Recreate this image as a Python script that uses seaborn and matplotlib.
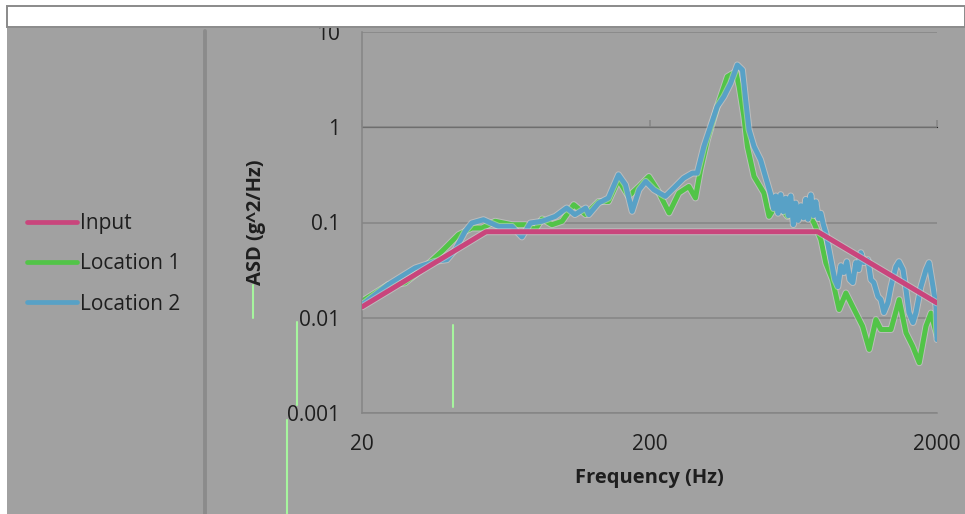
import matplotlib
matplotlib.use("Agg")
import matplotlib.pyplot as plt
from matplotlib.lines import Line2D
from matplotlib.patches import Rectangle
from matplotlib import patheffects as pe
from matplotlib.ticker import FixedLocator, FixedFormatter, NullLocator
import pandas as pd
import seaborn as sns

# ---- data -------------------------------------------------------------
input_freq = [20, 54, 770, 2000]
input_asd = [0.013, 0.08, 0.08, 0.0143]

loc1_freq = [20, 24.7, 28.2, 32.3, 37.9, 43.3, 48.2, 52.3, 58.1, 66.5, 74.0,
             80.1, 84.6, 91.6, 99.3, 109, 120, 133, 144, 156, 169, 184, 199,
             213, 234, 253, 274, 289, 301, 318, 344, 373, 399, 410, 426, 438,
             462, 500, 521, 557, 604, 656, 709, 747, 789, 821, 866, 913, 964,
             1030, 1102, 1162, 1226, 1276, 1383, 1477, 1560, 1646, 1735, 1831,
             1906, 2000]
loc1_asd = [0.0149, 0.0223, 0.0232, 0.032, 0.0498, 0.0745, 0.0875, 0.0875,
            0.103, 0.0948, 0.0948, 0.0841, 0.109, 0.0948, 0.103, 0.154, 0.121,
            0.166, 0.166, 0.281, 0.188, 0.239, 0.304, 0.221, 0.126, 0.204,
            0.239, 0.181, 0.357, 0.738, 1.65, 3.40, 3.84, 2.67, 1.29, 0.628,
            0.304, 0.204, 0.116, 0.160, 0.116, 0.143, 0.126, 0.0988, 0.0664,
            0.0376, 0.0251, 0.0122, 0.0182, 0.0122, 0.00815, 0.00465, 0.00957,
            0.00752, 0.00752, 0.0155, 0.00695, 0.00502, 0.00337, 0.00815,
            0.0112, 0.0064]

loc2_freq = [20, 24.7, 30.6, 35.9, 39.5, 42.2, 45.7, 48.2, 52.9, 59.7, 66.5,
             72.0, 77.0, 84.6, 94.1, 103, 110, 120, 123, 133, 144, 156, 165,
             174, 184, 194, 207, 227, 243, 263, 282, 293, 309, 326, 344, 363,
             383, 404, 421, 432, 444, 462, 487, 514, 528, 540, 550, 560, 572,
             584, 596, 608, 620, 633, 645, 658, 672, 686, 699, 712, 728, 743,
             758, 773, 789, 805, 821, 855, 882, 904, 926, 948, 971, 995, 1019,
             1044, 1069, 1087, 1113, 1150, 1178, 1206, 1246, 1276, 1307, 1350,
             1383, 1439, 1475, 1523, 1560, 1598, 1650, 1690, 1759, 1831, 1876,
             1937, 1984, 2000]
loc2_asd = [0.0137, 0.0223, 0.0333, 0.0391, 0.0407, 0.0519, 0.0807, 0.0988,
            0.107, 0.091, 0.091, 0.0705, 0.0988, 0.103, 0.116, 0.142, 0.121,
            0.142, 0.121, 0.160, 0.181, 0.317, 0.249, 0.131, 0.221, 0.270,
            0.221, 0.188, 0.230, 0.292, 0.330, 0.330, 0.628, 1.02, 1.65, 2.10,
            2.90, 4.51, 4.00, 1.94, 0.94, 0.628, 0.455, 0.259, 0.196, 0.140,
            0.190, 0.125, 0.196, 0.130, 0.180, 0.118, 0.190, 0.095, 0.160,
            0.105, 0.150, 0.112, 0.175, 0.108, 0.195, 0.118, 0.165, 0.110,
            0.125, 0.095, 0.0777, 0.0407, 0.0251, 0.0212, 0.0352, 0.0298,
            0.0388, 0.0251, 0.0234, 0.0379, 0.0320, 0.0482, 0.0379, 0.0407,
            0.0251, 0.0234, 0.0167, 0.0155, 0.01134, 0.01443, 0.0212, 0.0343,
            0.0388, 0.0320, 0.01975, 0.01134, 0.0089, 0.01134, 0.0212, 0.0320,
            0.0379, 0.0212, 0.0131, 0.0059]

series_names = ["Input", "Location 1", "Location 2"]
series_colors = ["#c9457c", "#52c448", "#58a1c6"]

x_ticks = [20, 200, 2000]
x_tick_labels = ["20", "200", "2000"]
y_ticks = [0.001, 0.01, 0.1, 1, 10]
y_tick_labels = ["0.001", "0.01", "0.1", "1", "10"]

x_title = "Frequency (Hz)"
y_title = "ASD (g^2/Hz)"

# ---- long-form table --------------------------------------------------
frames = []
for name, f, a in zip(series_names,
                      [input_freq, loc1_freq, loc2_freq],
                      [input_asd, loc1_asd, loc2_asd]):
    frames.append(pd.DataFrame({"freq": f, "asd": a, "series": name}))
df = pd.concat(frames, ignore_index=True)

# ---- style ------------------------------------------------------------
PANEL = "#a1a1a1"
GRID = "#858585"
TEXT = "#1e1e1e"
sns.set_style("white")
plt.rcParams["font.family"] = ["Open Sans", "DejaVu Sans"]
plt.rcParams["axes.unicode_minus"] = False

W, H = 965, 514
fig = plt.figure(figsize=(W / 100, H / 100), dpi=100, facecolor="white")


def fx(px):
    return px / W


def fy(py):
    return 1 - py / H


# grey chart panel and the white strip above it
fig.add_artist(Rectangle((fx(7), 0), fx(W - 7), fy(28), transform=fig.transFigure,
                         facecolor=PANEL, edgecolor="none", zorder=0))
fig.add_artist(Rectangle((fx(7), fy(27)), fx(W - 7), fy(6) - fy(27),
                         transform=fig.transFigure, facecolor="white",
                         edgecolor="#8a8a8a", linewidth=1.4, zorder=10))
# divider between the legend area and the plot area
fig.add_artist(Line2D([fx(205), fx(205)], [fy(31), 0], transform=fig.transFigure,
                      color="#8b8b8b", linewidth=2.8, zorder=1))

ax = fig.add_axes([fx(362), fy(413), fx(937) - fx(362), fy(32) - fy(413)])
ax.set_facecolor(PANEL)
ax.patch.set_alpha(0)

LW = 3.6
sns.lineplot(data=df, x="freq", y="asd", hue="series", hue_order=series_names,
             palette=series_colors, estimator=None, sort=False, linewidth=LW,
             ax=ax, legend=False)

halo = [pe.Stroke(linewidth=LW + 1.4, foreground="#d9d9d9", alpha=0.5), pe.Normal()]
for line, z in zip(ax.lines, [4, 2, 3]):
    line.set_zorder(z)
    line.set_solid_joinstyle("round")
    line.set_path_effects(halo)

ax.set_xscale("log")
ax.set_yscale("log")
ax.set_xlim(x_ticks[0], x_ticks[-1])
ax.set_ylim(y_ticks[0], y_ticks[-1])

ax.xaxis.set_major_locator(FixedLocator(x_ticks))
ax.xaxis.set_major_formatter(FixedFormatter(x_tick_labels))
ax.xaxis.set_minor_locator(NullLocator())
ax.yaxis.set_major_locator(FixedLocator(y_ticks))
ax.yaxis.set_major_formatter(FixedFormatter(y_tick_labels))
ax.yaxis.set_minor_locator(NullLocator())

ax.grid(axis="y", color=GRID, linewidth=1.1)
ax.grid(axis="x", visible=False)
ax.set_axisbelow(True)

for side in ["top", "right"]:
    ax.spines[side].set_visible(False)
for side in ["left", "bottom"]:
    ax.spines[side].set_color(GRID)
    ax.spines[side].set_linewidth(1.1)

ax.tick_params(axis="x", length=0, pad=15, labelsize=15, labelcolor=TEXT)
ax.tick_params(axis="y", length=5, width=1.1, color=GRID, pad=11,
               labelsize=15, labelcolor=TEXT)

# horizontal axis line crossing at ASD = 1, with its tick marks
cross = ax.secondary_xaxis(0.75)
cross.set_xticks(x_ticks)
cross.xaxis.set_minor_locator(NullLocator())
cross.set_xticklabels([""] * len(x_ticks))
cross.tick_params(axis="x", length=5, width=1.1, color=GRID)
cross.spines["bottom"].set_color(GRID)
cross.spines["bottom"].set_linewidth(1.1)

ax.set_xlabel(x_title, fontsize=14.5, fontweight="bold", color=TEXT)
ax.set_ylabel(y_title, fontsize=14.5, fontweight="bold", color=TEXT)
ax.xaxis.set_label_coords(0.5, (413 - 468) / 381)
ax.yaxis.set_label_coords((266 - 362) / 575, 0.5)

# legend in the left panel
handles = [Line2D([], [], color=c, linewidth=3.4) for c in series_colors]
fig.legend(handles, series_names, loc="center left",
           bbox_to_anchor=(fx(27), fy(264)), frameon=False, fontsize=15,
           handlelength=2.4, handletextpad=0.12, labelspacing=0.92,
           borderpad=0, borderaxespad=0, labelcolor=TEXT)

# pale green streaks across the panel
for x0, y0, y1 in [(253, 285, 318), (297, 322, 405), (287, 420, 514),
                   (453, 325, 407)]:
    fig.add_artist(Line2D([fx(x0), fx(x0)], [fy(y0), fy(y1)],
                          transform=fig.transFigure, color="#a6f59e",
                          linewidth=1.5, zorder=6))

fig.savefig("out.png", dpi=100, facecolor="white")
